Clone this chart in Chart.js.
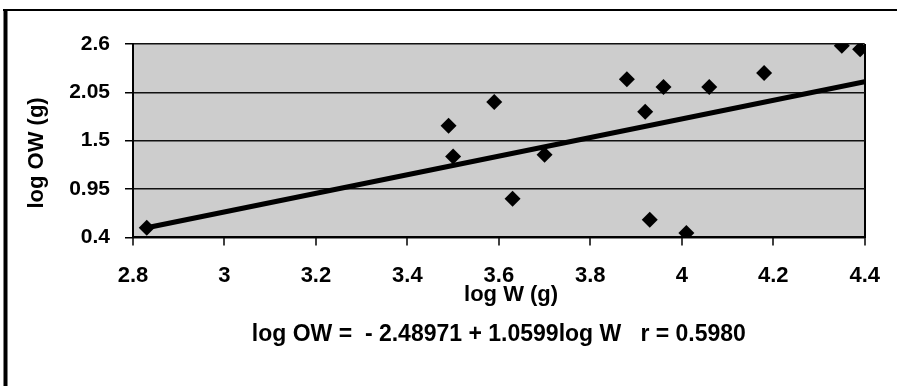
<!DOCTYPE html>
<html>
<head>
<meta charset="utf-8">
<script src="https://cdn.jsdelivr.net/npm/chart.js@4/dist/chart.umd.min.js"></script>
<style>
  html, body { margin: 0; padding: 0; background: #fff; }
  #wrap { width: 897px; height: 386px; }
</style>
</head>
<body>
<div id="wrap"><canvas id="chart1" width="897" height="386"></canvas></div>
<script>
// measured points, log W (g) vs log OW (g)
const logW  = [2.83, 3.49, 3.50, 3.59, 3.63, 3.70, 3.88, 3.92, 3.93, 3.96, 4.01, 4.06, 4.18, 4.35, 4.39];
const logOW = [0.51, 1.67, 1.32, 1.94, 0.84, 1.34, 2.20, 1.83, 0.60, 2.11, 0.45, 2.11, 2.27, 2.58, 2.54];

// regression line end points as drawn
const trendX = [2.83, 4.40];
const trendY = [0.51, 2.17];

const xTickVals = [2.8, 3.0, 3.2, 3.4, 3.6, 3.8, 4.0, 4.2, 4.4];
const xTickLabels = ['2.8', '3', '3.2', '3.4', '3.6', '3.8', '4', '4.2', '4.4'];
const yTickVals = [0.4, 0.95, 1.5, 2.05, 2.6];
const yTickLabels = ['0.4', '0.95', '1.5', '2.05', '2.6'];

// titles sit a little off-centre in the original, the spaces nudge them
const xTitle = '    log W (g)';
const yTitle = 'log OW (g)    ';
const equation = 'log OW =  - 2.48971 + 1.0599log W   r = 0.5980';

const FONT = "'Liberation Sans', Arial, sans-serif";

const pointData = logW.map((x, i) => ({ x: x, y: logOW[i] }));
const trendData = trendX.map((x, i) => ({ x: x, y: trendY[i] }));

// gray plot background
const plotBackground = {
    id: 'plotBackground',
    beforeDraw(chart) {
        const { ctx, chartArea } = chart;
        ctx.save();
        ctx.fillStyle = '#cdcdcd';
        ctx.fillRect(chartArea.left, chartArea.top, chartArea.right - chartArea.left, chartArea.bottom - chartArea.top);
        ctx.restore();
    }
};

// outer frame of the scanned figure (top and left edges only)
const frame = {
    id: 'frame',
    afterDraw(chart) {
        const ctx = chart.ctx;
        ctx.save();
        ctx.strokeStyle = '#000';
        ctx.lineWidth = 2;
        ctx.beginPath();
        ctx.moveTo(3, 10);
        ctx.lineTo(897, 10);
        ctx.stroke();
        ctx.lineWidth = 4;
        ctx.beginPath();
        ctx.moveTo(5.5, 9);
        ctx.lineTo(5.5, 386);
        ctx.stroke();
        ctx.restore();
    }
};

const ctx = document.getElementById('chart1').getContext('2d');

new Chart(ctx, {
    type: 'scatter',
    data: {
        datasets: [
            {
                label: 'points',
                data: pointData,
                pointStyle: 'rectRot',
                pointRadius: 8,
                backgroundColor: '#000',
                borderColor: '#000',
                borderWidth: 0,
                order: 1
            },
            {
                label: 'trend',
                type: 'line',
                data: trendData,
                showLine: true,
                borderColor: '#000',
                borderWidth: 5,
                pointRadius: 0,
                fill: false,
                order: 2
            }
        ]
    },
    options: {
        responsive: false,
        animation: false,
        devicePixelRatio: 1,
        layout: { padding: { left: 0, top: 44, right: 28, bottom: 38 } },
        plugins: {
            legend: { display: false },
            tooltip: { enabled: false },
            title: {
                display: true,
                text: equation,
                position: 'bottom',
                fullSize: false,
                color: '#000',
                font: { family: FONT, size: 23, weight: 'bold' },
                padding: { top: 3, bottom: 0 }
            }
        },
        scales: {
            x: {
                type: 'linear',
                min: 2.8,
                max: 4.4,
                afterBuildTicks: (scale) => { scale.ticks = xTickVals.map(v => ({ value: v })); },
                afterFit: (scale) => { scale.height = 80; },
                ticks: {
                    callback: (v, i) => xTickLabels[i],
                    color: '#000',
                    font: { family: FONT, size: 22, weight: 'bold' },
                    padding: 17,
                    maxRotation: 0,
                    autoSkip: false
                },
                grid: {
                    drawOnChartArea: true,
                    color: (c) => c.index === xTickVals.length - 1 ? '#000' : 'rgba(0,0,0,0)',
                    lineWidth: 2,
                    tickColor: '#000',
                    tickLength: 8,
                    tickWidth: 1.5
                },
                border: { display: true, color: '#000', width: 2 },
                title: {
                    display: true,
                    text: xTitle,
                    color: '#000',
                    font: { family: FONT, size: 22, weight: 'bold' },
                    padding: { top: 0, bottom: 9 }
                }
            },
            y: {
                type: 'linear',
                min: 0.4,
                max: 2.6,
                afterBuildTicks: (scale) => { scale.ticks = yTickVals.map(v => ({ value: v })); },
                afterFit: (scale) => { scale.width = 133; },
                ticks: {
                    callback: (v, i) => yTickLabels[i],
                    color: '#000',
                    font: { family: FONT, size: 21, weight: 'bold' },
                    padding: 15
                },
                grid: {
                    color: '#111',
                    lineWidth: 1.5,
                    tickColor: '#000',
                    tickLength: 8
                },
                border: { display: true, color: '#000', width: 2 },
                title: {
                    display: true,
                    text: yTitle,
                    color: '#000',
                    font: { family: FONT, size: 22, weight: 'bold' },
                    padding: { top: 24, bottom: 0 }
                }
            }
        }
    },
    plugins: [plotBackground, frame]
});
</script>
</body>
</html>
